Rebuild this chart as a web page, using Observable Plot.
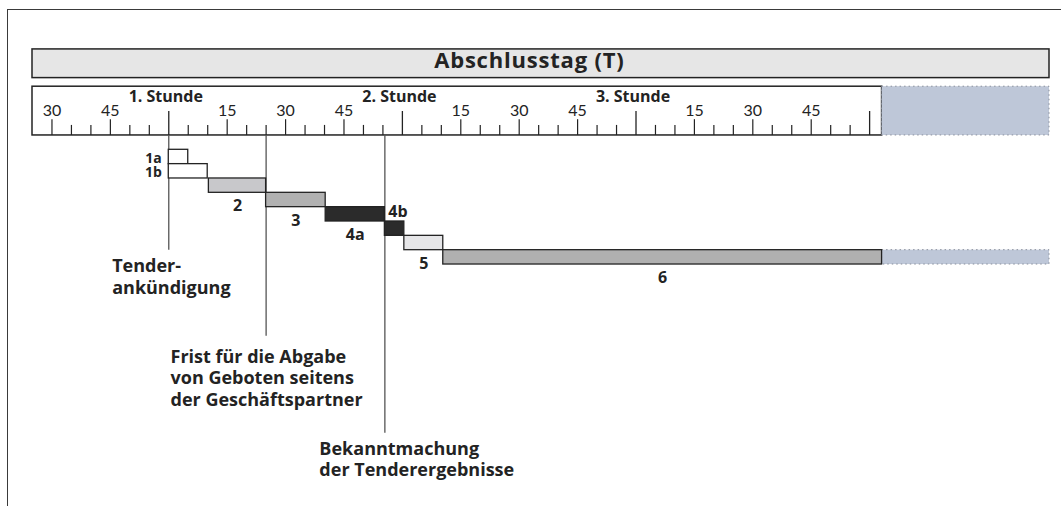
<!DOCTYPE html>
<html><head><meta charset="utf-8">
<script src="https://cdn.jsdelivr.net/npm/d3@7"></script>
<script src="https://cdn.jsdelivr.net/npm/@observablehq/plot@0.6"></script>
<style>
html,body{margin:0;padding:0;background:#fff;}
#wrap{position:relative;width:1061px;height:506px;overflow:hidden;}
#frame{position:absolute;left:7px;top:9px;width:1100px;height:600px;border-top:1.4px solid #3a3a3a;border-left:1.4px solid #3a3a3a;}
#chart{position:absolute;left:0;top:0;}
</style></head><body>
<div id="wrap"><div id="frame"></div><div id="chart"></div></div>
<script>
// ---- data (minutes relative to start of 1st hour; rows counted downward) ----
const title = "Abschlusstag (T)";
const dayStart = -35, dayEnd = 183.2, nextDayEnd = 226.2;

const stepIds   = ["1a", "1b", "2", "3", "4a", "4b", "5", "6"];
const stepStart = [0, 0, 10.3, 25, 40.3, 55.5, 60.5, 70.5];
const stepEnd   = [5, 10, 25, 40.3, 55.5, 60.5, 70.5, 183.2];
const stepRow   = [0, 1, 2, 3, 4, 5, 6, 7];

const eventTexts = ["Tender-\nankündigung",
  "Frist für die Abgabe\nvon Geboten seitens\nder Geschäftspartner",
  "Bekanntmachung\nder Tenderergebnisse"];
const eventTime   = [0, 25, 55.5];
const eventLineTo = [7, 13, 19.76];

const minorTicks   = [-25,-20,-10,-5,5,10,20,25,35,40,50,55,65,70,80,85,95,100,110,115,125,130,140,145,155,160,170,175];
const quarterTicks = [-30,-15,15,30,45,75,90,105,135,150,165];
const quarterLabels= ["30","45","15","30","45","15","30","45","15","30","45"];
const hourTicks    = [0, 60, 120, 180];
const hourLabels   = ["1. Stunde", "2. Stunde", "3. Stunde", ""];

// ---- build tables ----
const steps = stepIds.map((id, i) => ({id, x1: stepStart[i], x2: stepEnd[i], row: stepRow[i]}));
const events = eventTexts.map((t, i) => ({text: t, x: eventTime[i], to: eventLineTo[i]}));
const quarters = quarterTicks.map((m, i) => ({m, label: quarterLabels[i]}));
const hours = hourTicks.map((m, i) => ({m, label: hourLabels[i]}));

// styles
const fills = {"1a":"#ffffff","1b":"#ffffff","2":"#c8c8cb","3":"#b1b1b1","4a":"#2b2b2b","4b":"#2b2b2b","5":"#e6e6e8","6":"#b0b0b0"};
const FB = "'Open Sans', Lato, sans-serif";
const FR = "Lato, 'Open Sans', sans-serif";
const ink = "#232323";
const evLabel = [{dx:-56.6, dy:6.5},{dx:-95.6, dy:11},{dx:-65.5, dy:6.2}];

const below = steps.filter(d => ["2","3","4a","5","6"].includes(d.id));
const left = steps.filter(d => ["1a","1b"].includes(d.id));
const above = steps.filter(d => d.id === "4b");

const chart = Plot.plot({
  width: 1061, height: 506,
  marginTop: 0, marginBottom: 0, marginLeft: 0, marginRight: 0,
  x: {domain: [dayStart, nextDayEnd], range: [32, 1049], axis: null},
  y: {domain: [0, 1], range: [149.3, 163.64], axis: null},
  style: {background: "transparent", fontFamily: FB, color: ink},
  marks: [
    // header bar
    Plot.rect([{}], {x1: dayStart, x2: nextDayEnd, y1: -7, y2: -5, fill: "#e6e6e6", stroke: ink, strokeWidth: 1.5}),
    Plot.text([title], {x: 92.6, y: -5.72, text: d => d, lineAnchor: "bottom", fontSize: 22, fontWeight: "bold", fontFamily: FB, fill: ink}),
    // time axis box
    Plot.rect([{}], {x1: dayStart, x2: dayEnd, y1: -4.4, y2: -1, fill: "#fff", stroke: ink, strokeWidth: 1.5}),
    Plot.rect([{}], {x1: dayEnd, x2: nextDayEnd, y1: -4.4, y2: -1, fill: "#bec7d8", stroke: "#8a909c", strokeWidth: 1, strokeDasharray: "1.5,3"}),
    Plot.ruleX(minorTicks, {x: d => d, y1: -1.7, y2: -1, stroke: ink, strokeWidth: 1.2}),
    Plot.ruleX(quarterTicks, {x: d => d, y1: -2.1, y2: -1, stroke: ink, strokeWidth: 1.2}),
    Plot.ruleX(hourTicks, {x: d => d, y1: -2.67, y2: -1, stroke: ink, strokeWidth: 1.3}),
    Plot.text(quarters, {x: "m", y: -2.39, text: "label", lineAnchor: "bottom", fontSize: 16, fontFamily: FR, fill: ink}),
    Plot.text(hours, {x: "m", y: -3.32, dx: -3, text: "label", lineAnchor: "bottom", fontSize: 16, fontWeight: "bold", fontFamily: FB, fill: ink}),
    // event lines
    Plot.ruleX(events, {x: "x", y1: -1, y2: "to", stroke: "#555", strokeWidth: 1.3}),
    // bars
    Plot.rect(steps.filter(d => d.id === "6"), {x1: dayEnd, x2: nextDayEnd, y1: "row", y2: d => d.row + 1, fill: "#bec7d8", stroke: "#8a909c", strokeWidth: 1, strokeDasharray: "1.5,3"}),
    Plot.rect(steps, {x1: "x1", x2: "x2", y1: "row", y2: d => d.row + 1, fill: d => fills[d.id], stroke: ink, strokeWidth: 1.3}),
    // bar labels
    Plot.text(below, {x: d => (d.x1 + d.x2) / 2, y: d => d.row + 1, dy: 18.5, text: "id", lineAnchor: "bottom", fontSize: 16, fontWeight: "bold", fontFamily: FB, fill: ink}),
    Plot.text(left, {x: "x1", y: d => d.row + 1, dx: -7, dy: -1.5, text: "id", textAnchor: "end", lineAnchor: "bottom", fontSize: 14, fontWeight: "bold", fontFamily: FB, fill: ink}),
    Plot.text(above, {x: "x1", y: "row", dx: 3.5, dy: -4.3, text: "id", textAnchor: "start", lineAnchor: "bottom", fontSize: 16, fontWeight: "bold", fontFamily: FB, fill: ink}),
    // event labels
    ...events.map((e, i) => Plot.text([e], {x: "x", y: "to", dx: evLabel[i].dx, dy: evLabel[i].dy, text: "text", textAnchor: "start", lineAnchor: "top", lineHeight: 1.2, fontSize: 18, fontWeight: "bold", fontFamily: FB, fill: ink}))
  ]
});
d3.select(chart).selectAll("text").filter(function() { return this.textContent === title; }).style("letter-spacing", "0.8px");
document.getElementById("chart").appendChild(chart);
</script>
</body></html>
